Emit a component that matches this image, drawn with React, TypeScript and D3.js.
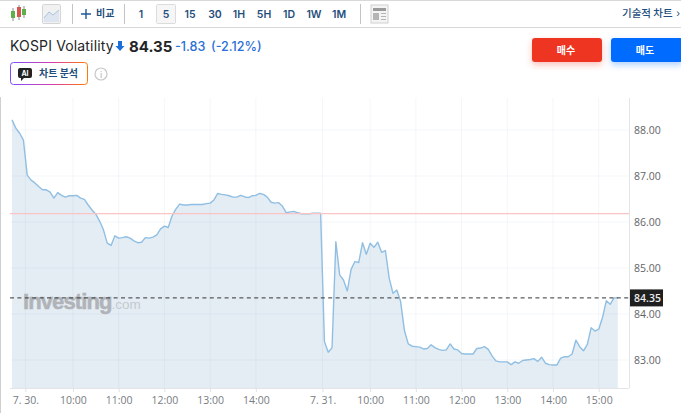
import { useEffect, useRef } from "react";
import * as d3 from "d3";

// one close per 5 minute bar
const closes = [
  88.22, 88.04, 87.93, 87.78, 87.02, 86.91, 86.85, 86.77, 86.7, 86.7,
  86.65, 86.52, 86.64, 86.58, 86.54, 86.57, 86.57, 86.58, 86.52, 86.49,
  86.37, 86.26, 86.17, 86.02, 85.83, 85.54, 85.49, 85.7, 85.65, 85.66,
  85.68, 85.65, 85.59, 85.55, 85.56, 85.66, 85.65, 85.67, 85.72, 85.85,
  85.91, 85.88, 86.13, 86.28, 86.39, 86.37, 86.37, 86.38, 86.38, 86.38,
  86.38, 86.4, 86.41, 86.48, 86.62, 86.6, 86.59, 86.57, 86.54, 86.54,
  86.58, 86.55, 86.53, 86.57, 86.58, 86.62, 86.6, 86.54, 86.43, 86.41,
  86.42, 86.34, 86.2, 86.22, 86.23, 86.2, 86.18, 86.18, 86.18, 86.19,
  86.19, 86.19, 83.4, 83.17, 83.27, 85.57, 84.85, 84.74, 84.5, 84.97,
  85.14, 85.12, 85.55, 85.3, 85.54, 85.45, 85.56, 85.34, 85.38, 84.78,
  84.45, 84.52, 84.27, 83.64, 83.35, 83.3, 83.29, 83.28, 83.24, 83.25,
  83.33, 83.27, 83.23, 83.21, 83.22, 83.35, 83.24, 83.22, 83.14, 83.13,
  83.13, 83.13, 83.25, 83.26, 83.29, 83.23, 83.09, 82.98, 82.96, 82.96,
  82.96, 82.9, 82.96, 82.93, 82.99, 83.0, 83.01, 83.03, 82.97, 83.06,
  82.93, 82.9, 82.89, 82.89, 83.04, 83.07, 83.07, 83.13, 83.43, 83.29,
  83.2, 83.34, 83.7, 83.63, 83.67, 83.93, 84.29, 84.21, 84.35, 84.35,
];

const timeTickBars = [3.5, 16, 28, 40, 52, 64, 81.5, 94, 106, 118, 130, 142, 154];
const timeTickLabels = ["7. 30.", "10:00", "11:00", "12:00", "13:00", "14:00", "7. 31.", "10:00", "11:00", "12:00", "13:00", "14:00", "15:00"];
const priceTicks = [83, 84, 85, 86, 87, 88];
const lastPrice = 84.35;
const prevClose = 86.18;
const intervals = ["1", "5", "15", "30", "1H", "5H", "1D", "1W", "1M"];
const intervalX = [141, 166, 190, 215, 239, 264, 289, 314, 339];

const SANS = "Inter, 'Noto Sans CJK KR', sans-serif";
const KR = "'Noto Sans CJK KR', sans-serif";
const LABEL = "'Open Sans', 'Noto Sans', sans-serif";

export default function App() {
  const ref = useRef<SVGSVGElement>(null);

  useEffect(() => {
    const svg = d3.select(ref.current);
    svg.selectAll("*").remove();

    const marginLeft = 10;
    const right = 629;
    const top = 98;
    const bottom = 388;

    const x = d3.scaleLinear().domain([0, 159]).range([12, 617.8]);
    const y = d3.scaleLinear().domain([83, 88]).range([360, 130]);

    const defs = svg.append("defs");
    const grad = defs.append("linearGradient").attr("id", "aiBorder").attr("x1", "0%").attr("x2", "100%").attr("y1", "0%").attr("y2", "0%");
    grad.append("stop").attr("offset", "0%").attr("stop-color", "#7b4dff");
    grad.append("stop").attr("offset", "55%").attr("stop-color", "#d63fa8");
    grad.append("stop").attr("offset", "100%").attr("stop-color", "#ff7a00");
    const shadow = (id: string, color: string) => {
      defs.append("filter").attr("id", id).attr("x", "-20%").attr("y", "-40%").attr("width", "140%").attr("height", "200%")
        .append("feDropShadow").attr("dx", 0).attr("dy", 3).attr("stdDeviation", 3).attr("flood-color", color).attr("flood-opacity", 0.3);
    };
    shadow("redShadow", "#ee3524");
    shadow("blueShadow", "#006cff");

    // page frame + toolbar
    svg.append("rect").attr("width", 681).attr("height", 413).attr("fill", "#fff");
    svg.append("rect").attr("width", 681).attr("height", 1).attr("fill", "#d8d8d8");
    svg.append("rect").attr("y", 27).attr("width", 681).attr("height", 1).attr("fill", "#d8d8d8");
    svg.append("rect").attr("y", 97).attr("width", 1).attr("height", 316).attr("fill", "#d0d0d0");
    [72, 124, 360].forEach((sx) => {
      svg.append("rect").attr("x", sx).attr("y", 4).attr("width", 1).attr("height", 20).attr("fill", "#c4c4c4");
    });

    // candlestick icon
    const candle = svg.append("g");
    ([[13, 11, 18, "#5fb04a", 8, 21], [19, 7, 17, "#d9534f", 5, 20], [24, 9, 15, "#5fb04a", 6, 18]] as const).forEach(([cx, y0, y1, c, w0, w1]) => {
      candle.append("line").attr("x1", cx).attr("x2", cx).attr("y1", w0).attr("y2", w1).attr("stroke", "#8a8a8a");
      candle.append("rect").attr("x", cx - 2).attr("y", y0).attr("width", 4).attr("height", y1 - y0).attr("fill", c);
    });

    // area icon
    svg.append("rect").attr("x", 42.5).attr("y", 4.5).attr("width", 18).attr("height", 19).attr("rx", 1).attr("fill", "#f1f1f1").attr("stroke", "#d5d5d5");
    svg.append("path").attr("d", "M44 18L49 12L53 15L59 10V22H44Z").attr("fill", "#dde6f0");
    svg.append("path").attr("d", "M44 18L49 12L53 15L59 10").attr("fill", "none").attr("stroke", "#a9c4de");

    // compare
    svg.append("path").attr("d", "M81 14H91M86 9V19").attr("stroke", "#1b5a96").attr("stroke-width", 1.4);
    svg.append("text").attr("x", 96).attr("y", 17).attr("font-family", KR).attr("font-size", 10).attr("font-weight", 700).attr("fill", "#1f4e7c").text("비교");

    // intervals
    svg.append("rect").attr("x", 156.5).attr("y", 4.5).attr("width", 19).attr("height", 19).attr("rx", 1).attr("fill", "#f6f6f6").attr("stroke", "#dcdcdc");
    svg.append("g").selectAll("text").data(intervals).join("text")
      .attr("x", (_, i) => intervalX[i])
      .attr("y", 17.5)
      .attr("text-anchor", "middle")
      .attr("font-family", SANS)
      .attr("font-size", 10.5)
      .attr("font-weight", 600)
      .attr("fill", "#1f4e7c")
      .text((d) => d);

    // news icon
    svg.append("rect").attr("x", 371).attr("y", 5).attr("width", 17).attr("height", 18).attr("fill", "#f4f4f4").attr("stroke", "#d0d0d0");
    svg.append("rect").attr("x", 373).attr("y", 8).attr("width", 13).attr("height", 3).attr("fill", "#9a9a9a");
    svg.append("rect").attr("x", 373).attr("y", 13).attr("width", 6).attr("height", 7).attr("fill", "#b5b5b5");
    svg.append("path").attr("d", "M381 13.5H386M381 16.5H386M381 19.5H386").attr("stroke", "#b5b5b5");

    svg.append("text").attr("x", 622).attr("y", 17).attr("font-family", KR).attr("font-size", 10.5).attr("font-weight", 500).attr("fill", "#1f4e7c").text("기술적 차트");
    svg.append("text").attr("x", 680).attr("y", 17).attr("text-anchor", "end").attr("font-family", SANS).attr("font-size", 10).attr("fill", "#1f4e7c").text("›");

    // header
    svg.append("text").attr("x", 10).attr("y", 51).attr("font-family", SANS).attr("font-size", 14).attr("letter-spacing", 0.15).attr("fill", "#232526").text("KOSPI Volatility");
    svg.append("path").attr("d", "M118 41H122V46H124.5L120 51L115.5 46H118Z").attr("fill", "#1c6fd8");
    svg.append("text").attr("x", 129).attr("y", 51.5).attr("font-family", SANS).attr("font-size", 15).attr("font-weight", 700).attr("fill", "#232526").text("84.35");
    svg.append("text").attr("x", 175).attr("y", 50.5).attr("font-family", SANS).attr("font-size", 12.6).attr("font-weight", 500).attr("fill", "#2a6fd6").text("-1.83");
    svg.append("text").attr("x", 211).attr("y", 50.5).attr("font-family", SANS).attr("font-size", 12.6).attr("font-weight", 500).attr("fill", "#2a6fd6").text("(-2.12%)");

    // AI button
    svg.append("rect").attr("x", 10.5).attr("y", 62.5).attr("width", 77).attr("height", 22).attr("rx", 3).attr("fill", "#fff").attr("stroke", "url(#aiBorder)");
    svg.append("path").attr("d", "M20 68H30Q32 68 32 70V76Q32 78 30 78H24L21 81V78H20Q18 78 18 76V70Q18 68 20 68Z").attr("fill", "#222");
    svg.append("text").attr("x", 25).attr("y", 76.3).attr("text-anchor", "middle").attr("font-family", SANS).attr("font-size", 7).attr("font-weight", 700).attr("fill", "#fff").text("AI");
    svg.append("text").attr("x", 39).attr("y", 77).attr("font-family", KR).attr("font-size", 10).attr("font-weight", 700).attr("fill", "#1f4e7c").text("차트 분석");
    svg.append("circle").attr("cx", 101).attr("cy", 74).attr("r", 6).attr("fill", "#fff").attr("stroke", "#c8c8c8").attr("stroke-width", 1.2);
    svg.append("text").attr("x", 101).attr("y", 77.5).attr("text-anchor", "middle").attr("font-family", SANS).attr("font-size", 9).attr("fill", "#b5b5b5").text("i");

    // buy / sell
    svg.append("rect").attr("x", 532).attr("y", 38).attr("width", 70).attr("height", 24).attr("rx", 3).attr("fill", "#ee3524").attr("filter", "url(#redShadow)");
    svg.append("text").attr("x", 566).attr("y", 54).attr("text-anchor", "middle").attr("font-family", KR).attr("font-size", 10).attr("font-weight", 700).attr("fill", "#fff").text("매수");
    svg.append("rect").attr("x", 611).attr("y", 38).attr("width", 72).attr("height", 24).attr("rx", 3).attr("fill", "#006cff").attr("filter", "url(#blueShadow)");
    svg.append("text").attr("x", 645).attr("y", 54).attr("text-anchor", "middle").attr("font-family", KR).attr("font-size", 10).attr("font-weight", 700).attr("fill", "#fff").text("매도");

    // area and line
    const area = d3.area<number>().x((_, i) => x(i)).y0(bottom).y1((d) => y(d));
    const line = d3.line<number>().x((_, i) => x(i)).y((d) => y(d));
    svg.append("path").datum(closes).attr("d", area).attr("fill", "#e4edf4");

    // grid
    const grid = svg.append("g").attr("stroke", "#8a9bb0").attr("stroke-opacity", 0.09);
    grid.selectAll("line.v").data(timeTickBars).join("line").attr("class", "v")
      .attr("x1", (d) => x(d)).attr("x2", (d) => x(d)).attr("y1", top).attr("y2", bottom);
    grid.selectAll("line.h").data(priceTicks).join("line").attr("class", "h")
      .attr("x1", marginLeft).attr("x2", right).attr("y1", (d) => y(d)).attr("y2", (d) => y(d));

    // watermark
    const mark = svg.append("text").attr("x", 23).attr("y", 309).attr("font-family", "'Liberation Sans', sans-serif");
    mark.append("tspan").attr("font-size", 22).attr("font-weight", 700).attr("letter-spacing", -0.9).attr("fill", "#b0b4b8").attr("stroke", "#b0b4b8").attr("stroke-width", 0.5).text("Investing");
    mark.append("tspan").attr("font-size", 13.5).attr("fill", "#c6cacd").text(".com");

    svg.append("path").datum(closes).attr("d", line).attr("fill", "none").attr("stroke", "#90bfe3").attr("stroke-width", 1.4).attr("stroke-linejoin", "round");

    // reference lines
    svg.append("line").attr("x1", marginLeft).attr("x2", right).attr("y1", y(prevClose)).attr("y2", y(prevClose)).attr("stroke", "#fac4c4").attr("stroke-width", 1.2);
    svg.append("line").attr("x1", marginLeft).attr("x2", right).attr("y1", y(lastPrice)).attr("y2", y(lastPrice)).attr("stroke", "#333").attr("stroke-dasharray", "4 3.4");

    // axes
    const xAxis = svg.append("g")
      .attr("transform", `translate(0, ${bottom})`)
      .call(d3.axisBottom(x).tickValues(timeTickBars).tickSize(4).tickPadding(5).tickFormat((_, i) => timeTickLabels[i]));
    xAxis.select(".domain").attr("d", `M${marginLeft},0.5H${right}`).attr("stroke", "#e2e4e8");
    xAxis.selectAll(".tick line").attr("stroke", "#dfe2e6");
    xAxis.selectAll("text").attr("font-family", LABEL).attr("font-size", 10.5).attr("fill", "#777c82");

    const yAxis = svg.append("g")
      .attr("transform", `translate(${right}, 0)`)
      .call(d3.axisRight(y).tickValues(priceTicks).tickSize(0).tickPadding(5).tickFormat((d) => (d as number).toFixed(2)));
    yAxis.select(".domain").attr("d", `M0.5,${top}V${bottom}`).attr("stroke", "#e2e4e8");
    yAxis.selectAll("text").attr("font-family", LABEL).attr("font-size", 10.5).attr("fill", "#5f6468");

    // last price tag
    svg.append("rect").attr("x", 630).attr("y", y(lastPrice) - 8.5).attr("width", 33).attr("height", 17).attr("fill", "#1f1f1f");
    svg.append("text").attr("x", 634).attr("y", y(lastPrice) + 3.8).attr("font-family", LABEL).attr("font-size", 10.5).attr("font-weight", 600).attr("fill", "#eee").text(lastPrice.toFixed(2));
  }, []);

  return <svg ref={ref} width={681} height={413} style={{ position: "absolute", left: 0, top: 0, display: "block" }} />;
}
